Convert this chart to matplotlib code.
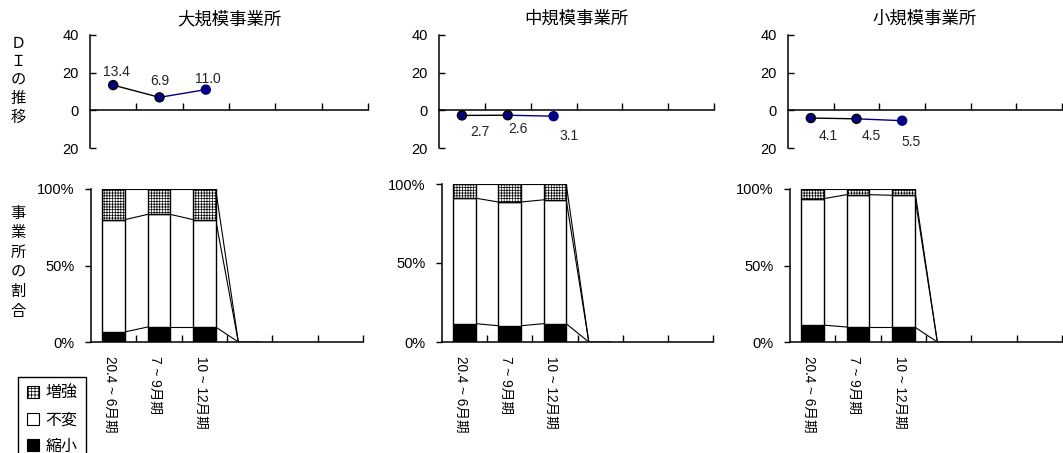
import matplotlib
matplotlib.use("Agg")
import matplotlib.pyplot as plt
from matplotlib.patches import Patch
from matplotlib.ticker import FuncFormatter, FixedLocator
import numpy as np

plt.rcParams['font.family'] = ['Liberation Sans', 'Noto Sans CJK JP']
plt.rcParams['hatch.linewidth'] = 0.5

# --- data ---
titles = ["大規模事業所", "中規模事業所", "小規模事業所"]
periods = ["20.4 ~ 6月期", "7 ~ 9月期", "10 ~ 12月期"]

# DI (増強 - 縮小)
di_large = [13.4, 6.9, 11.0]
di_mid = [-2.7, -2.6, -3.1]
di_small = [-4.1, -4.5, -5.5]

# shares in % ; 4th period is empty (0) in the source sheet
shrink_large = [6.6, 9.8, 9.8, 0]
same_large = [73.4, 73.6, 70.2, 0]
up_large = [20.0, 16.6, 20.0, 0]

shrink_mid = [11.6, 10.3, 11.6, 0]
same_mid = [79.4, 78.3, 78.4, 0]
up_mid = [9.0, 11.4, 10.0, 0]

shrink_small = [11.0, 9.8, 9.8, 0]
same_small = [82.7, 86.5, 86.1, 0]
up_small = [6.3, 3.7, 4.1, 0]

n_slots = 6
navy = "#000080"

W, H = 1063, 453
def box(l, t, r, b):
    return [l / W, 1 - b / H, (r - l) / W, (b - t) / H]

top_boxes = [(90, 35, 368, 148), (439, 35, 714, 148), (788, 35, 1062, 148)]
bot_boxes = [(91, 189, 363, 342), (442, 184, 713, 342), (790, 189, 1062, 342)]
label_off = [[(3, 13), (0, 16), (2, 11)],
             [(18, -17), (10, -14), (15, -20)],
             [(17, -18), (15, -17), (9, -21)]]

fig = plt.figure(figsize=(W / 100, H / 100), dpi=100)

di_all = [di_large, di_mid, di_small]
shares = [(shrink_large, same_large, up_large),
          (shrink_mid, same_mid, up_mid),
          (shrink_small, same_small, up_small)]

for k in range(3):
    # ---- DI line chart ----
    ax = fig.add_axes(box(*top_boxes[k]))
    di = di_all[k]
    xs = np.arange(len(di)) + 0.5
    ax.plot(xs[:2], di[:2], color="black", lw=1.0, zorder=2)
    ax.plot(xs[1:], di[1:], color=navy, lw=1.0, zorder=2)
    ax.scatter(xs, di, s=42, facecolor=navy, edgecolors=["black", "black", navy],
               linewidths=1.0, zorder=3)
    for i, v in enumerate(di):
        ax.annotate(f"{abs(v):.1f}", (xs[i], v), xytext=label_off[k][i],
                    textcoords="offset pixels", ha="center", va="center",
                    fontsize=10, color="#222222")
    ax.set_xlim(0, n_slots)
    ax.set_ylim(-20, 40)
    ax.set_yticks([-20, 0, 20, 40])
    ax.yaxis.set_major_formatter(FuncFormatter(lambda v, p: f"{abs(v):.0f}"))
    ax.set_xticks(np.arange(1, n_slots + 1))
    ax.set_xticklabels([])
    for s in ["top", "right"]:
        ax.spines[s].set_visible(False)
    ax.spines["bottom"].set_position(("data", 0))
    ax.spines["left"].set_linewidth(1.1)
    ax.spines["bottom"].set_linewidth(1.1)
    ax.tick_params(axis="x", direction="in", length=5, width=1.0)
    ax.tick_params(axis="y", direction="in", length=4, width=1.0, labelsize=10.5, pad=8)
    ax.set_title(titles[k], fontsize=12.5, pad=8)

    # ---- 100% stacked bars ----
    bx = fig.add_axes(box(*bot_boxes[k]))
    shrink, same, up = [np.array(a) for a in shares[k]]
    pos = np.arange(len(shrink)) + 0.5
    bw = 0.5
    bx.bar(pos, shrink, width=bw, color="black", edgecolor="black", lw=1.0, zorder=2)
    bx.bar(pos, same, width=bw, bottom=shrink, color="white", edgecolor="black", lw=1.0, zorder=2)
    bx.bar(pos, up, width=bw, bottom=shrink + same, color="white", edgecolor="black",
           hatch="++++++", lw=1.0, zorder=2)
    # series lines between neighbouring bars
    levels = [shrink, shrink + same, shrink + same + up]
    for lv in levels:
        for i in range(len(pos) - 1):
            bx.plot([pos[i] + bw / 2, pos[i + 1] - bw / 2], [lv[i], lv[i + 1]],
                    color="black", lw=0.8, zorder=1)
    bx.set_xlim(0, n_slots)
    bx.set_ylim(0, 100)
    bx.set_yticks([0, 50, 100])
    bx.yaxis.set_major_formatter(FuncFormatter(lambda v, p: f"{v:.0f}%"))
    bx.set_xticks(np.arange(1, n_slots + 1))
    bx.set_xticklabels([])
    bx.xaxis.set_minor_locator(FixedLocator(pos[:len(periods)] - 0.08))
    bx.set_xticklabels(periods, minor=True, rotation=-90, fontsize=9.8, va="top")
    bx.tick_params(axis="x", which="minor", length=0, pad=10)
    bx.tick_params(axis="x", which="major", direction="in", length=5, width=1.0)
    bx.tick_params(axis="y", direction="out", length=4, width=1.0, labelsize=10.5, pad=8)
    for s in ["top", "right"]:
        bx.spines[s].set_visible(False)
    bx.spines["left"].set_linewidth(1.1)
    bx.spines["bottom"].set_linewidth(1.1)

# left side vertical captions
fig.text(18 / W, 1 - 37 / H, "\n".join("ＤＩの推移"), ha="center", va="top",
         fontsize=11, linespacing=1.4)
fig.text(18 / W, 1 - 207 / H, "\n".join("事業所の割合"), ha="center", va="top",
         fontsize=11, linespacing=1.5)

handles = [Patch(facecolor="white", edgecolor="black", hatch="+++++", lw=0.8),
           Patch(facecolor="white", edgecolor="black", lw=0.8),
           Patch(facecolor="black", edgecolor="black", lw=0.8)]
leg = fig.legend(handles, ["増強", "不変", "縮小"], loc="upper left",
                 bbox_to_anchor=(18 / W, 1 - 377 / H), fontsize=11.5,
                 handlelength=0.75, handleheight=0.75, handletextpad=0.4,
                 labelspacing=0.72, borderpad=0.55, borderaxespad=0, fancybox=False,
                 edgecolor="black", framealpha=1)
leg.get_frame().set_linewidth(1.0)

fig.savefig("out.png", dpi=100)
